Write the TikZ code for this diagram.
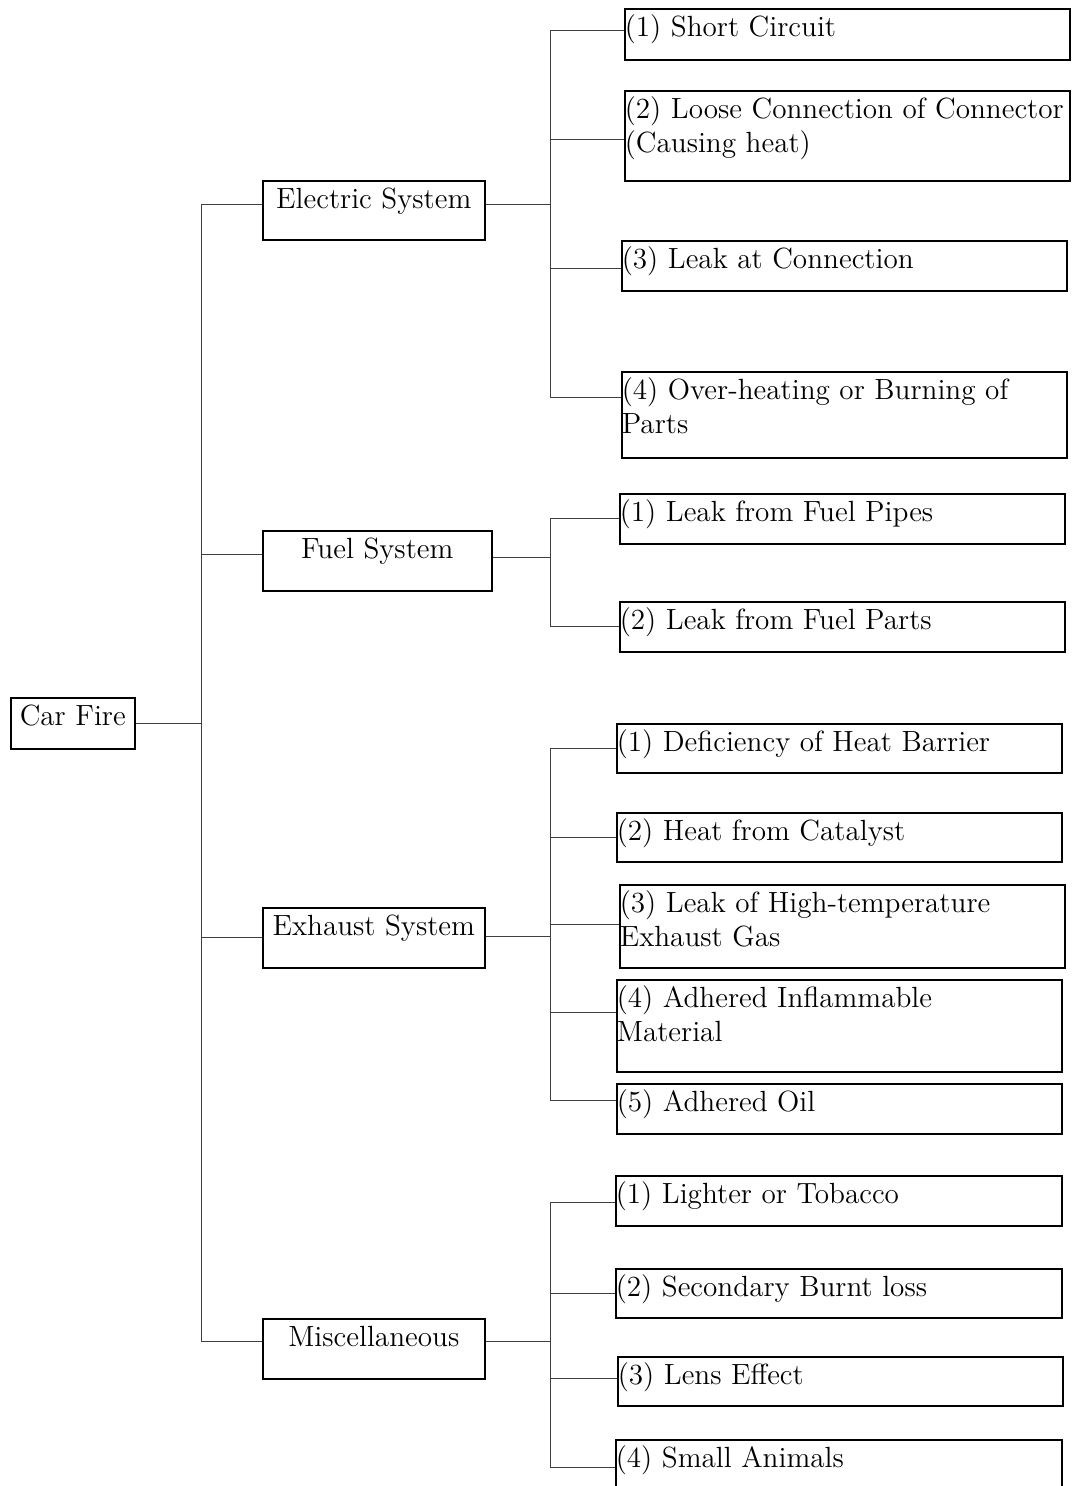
\documentclass[tikz,border=0pt]{standalone}
\usepackage{amsmath}
\usepackage{tikz}
\usetikzlibrary{calc}

\newlength{\unitpx}
\setlength{\unitpx}{0.5pt}
% box text: width, height (in px), text set from the top
\newcommand{\cellbox}[3]{\parbox[c][#2\unitpx][t]{#1\unitpx}{\vspace{2pt}\strut#3}}

\tikzset{
  box/.style={draw, line width=0.8pt, rectangle, inner sep=0pt, anchor=north west,
    font=\fontsize{14.6}{17}\selectfont},
  link/.style={line width=0.5pt, black!75},
}

\begin{document}
\begin{tikzpicture}[x=0.5pt, y=-0.5pt]
\useasboundingbox (0,0) rectangle (1072,1486);

% Root
\node[box] (root) at (10,697) {\cellbox{124}{51}{\centering Car Fire}};

% Systems
\node[box] (elec) at (262,180) {\cellbox{222}{59}{\centering Electric System}};
\node[box] (fuel) at (262,530) {\cellbox{229}{60}{\centering Fuel System}};
\node[box] (exh) at (262,907) {\cellbox{222}{60}{\centering Exhaust System}};
\node[box] (misc) at (262,1318) {\cellbox{222}{60}{\centering Miscellaneous}};

% Electric causes
\node[box] (e1) at (624,8) {\cellbox{445}{51}{\raggedright (1) Short Circuit}};
\node[box] (e2) at (624,90) {\cellbox{445}{90}{\raggedright (2) Loose Connection of Connector\\(Causing heat)}};
\node[box] (e3) at (621,240) {\cellbox{445}{50}{\raggedright (3) Leak at Connection}};
\node[box] (e4) at (621,371) {\cellbox{445}{86}{\raggedright (4) Over-heating or Burning of\\Parts}};

% Fuel causes
\node[box] (f1) at (619,493) {\cellbox{445}{50}{\raggedright (1) Leak from Fuel Pipes}};
\node[box] (f2) at (619,601) {\cellbox{445}{50}{\raggedright (2) Leak from Fuel Parts}};

% Exhaust causes
\node[box] (x1) at (616,723) {\cellbox{445}{49}{\raggedright (1) Deficiency of Heat Barrier}};
\node[box] (x2) at (616,812) {\cellbox{445}{49}{\raggedright (2) Heat from Catalyst}};
\node[box] (x3) at (619,884) {\cellbox{445}{83}{\raggedright (3) Leak of High-temperature\\Exhaust Gas}};
\node[box] (x4) at (616,979) {\cellbox{445}{92}{\raggedright (4) Adhered Inflammable\\Material}};
\node[box] (x5) at (616,1083) {\cellbox{445}{50}{\raggedright (5) Adhered Oil}};

% Other causes
\node[box] (m1) at (615,1175) {\cellbox{446}{50}{\raggedright (1) Lighter or Tobacco}};
\node[box] (m2) at (615,1268) {\cellbox{446}{49}{\raggedright (2) Secondary Burnt loss}};
\node[box] (m3) at (617,1356) {\cellbox{445}{49}{\raggedright (3) Lens Effect}};
\node[box] (m4) at (615,1439) {\cellbox{446}{55}{\raggedright (4) Small Animals}};

% Connectors
\coordinate (trunk) at (201,0);
\coordinate (eb) at (550,0);

\draw[link] (root.east) -- (root.east -| trunk);
\foreach \s/\d in {elec/3,fuel/3,exh/0,misc/3.5}
  \draw[link] (root.east -| trunk) |- ([yshift=\d pt]\s.west);

\foreach \s/\d in {elec/3,fuel/1.5,exh/0.5,misc/3.5}
  \coordinate (\s R) at ([yshift=\d pt]\s.east);

\draw[link] (elecR) -- (elecR -| eb);
\foreach \c/\d in {e1/1.75,e2/-2,e3/-1.5,e4/8.5}
  \draw[link] (elecR -| eb) |- ([yshift=\d pt]\c.west);

\draw[link] (fuelR) -- (fuelR -| eb);
\foreach \c/\d in {f1/0,f2/0}
  \draw[link] (fuelR -| eb) |- ([yshift=\d pt]\c.west);

\draw[link] (exhR) -- (exhR -| eb);
\foreach \c/\d in {x1/0,x2/0,x3/0.75,x4/6.5,x5/4}
  \draw[link] (exhR -| eb) |- ([yshift=\d pt]\c.west);

\draw[link] (miscR) -- (miscR -| eb);
\foreach \c/\d in {m1/-1,m2/0,m3/1.25,m4/0}
  \draw[link] (miscR -| eb) |- ([yshift=\d pt]\c.west);
\end{tikzpicture}
\end{document}
